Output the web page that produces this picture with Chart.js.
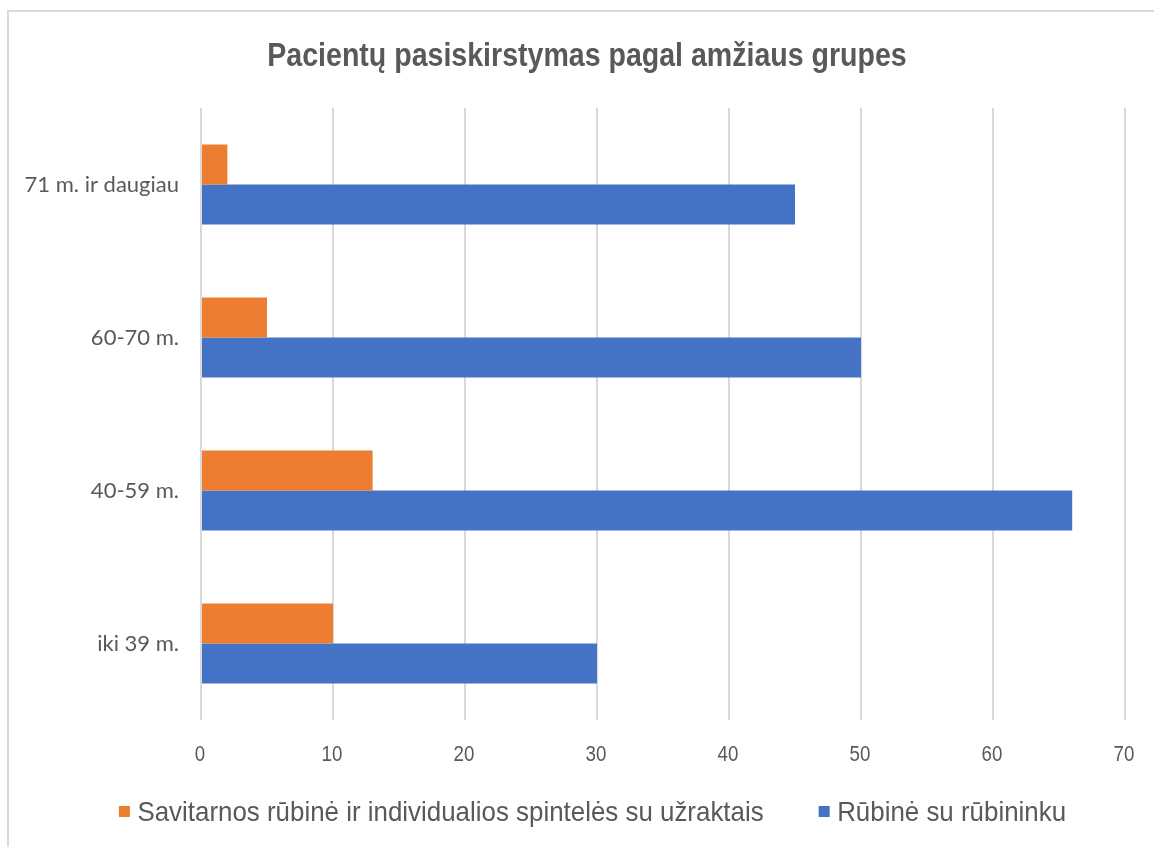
<!DOCTYPE html>
<html><head><meta charset="utf-8">
<script src="https://cdn.jsdelivr.net/npm/chart.js@4.4.1/dist/chart.umd.min.js"></script>
<style>
html,body{margin:0;padding:0;background:#fff;overflow:hidden}
#frame{position:absolute;left:7px;top:10px;width:1200px;height:900px;border-left:2px solid #d9d9d9;border-top:2px solid #d9d9d9;}
#wrap{position:absolute;left:0;top:0;width:1154px;height:847px}
</style></head><body>
<div id="frame"></div>
<div id="wrap"><canvas id="c" width="1154" height="847"></canvas></div>
<script>
const titleText = 'Pacientų pasiskirstymas pagal amžiaus grupes';
const categories = ['71 m. ir daugiau', '60-70 m.', '40-59 m.', 'iki 39 m.'];
const seriesNames = ['Savitarnos rūbinė ir individualios spintelės su užraktais', 'Rūbinė su rūbininku'];
const selfServiceValues = [2, 5, 13, 10];
const attendantValues = [45, 50, 66, 30];
const xTickValues = [0, 10, 20, 30, 40, 50, 60, 70];
const seriesColors = ['#ED7D31', '#4472C4'];

const SANS = '"Liberation Sans", Arial, sans-serif';
const TEXT = '#595959';

// draw text horizontally condensed (the reference uses a narrow face)
function narrowText(ctx, text, x, y, sx, align) {
  ctx.save();
  ctx.translate(x, y);
  ctx.scale(sx, 1);
  ctx.textAlign = align;
  ctx.fillText(text, 0, 0);
  ctx.restore();
}

const narrowTextPlugin = {
  id: 'narrowText',
  afterDraw(chart) {
    const ctx = chart.ctx;
    ctx.save();
    ctx.textBaseline = 'alphabetic';
    ctx.fillStyle = TEXT;

    // title
    ctx.font = 'bold 33px ' + SANS;
    narrowText(ctx, titleText, 587, 66, 0.865, 'center');

    // x tick labels, positioned by the library's x scale
    const xs = chart.scales.x;
    ctx.font = '22px ' + SANS;
    xTickValues.forEach(v => {
      narrowText(ctx, String(v), xs.getPixelForValue(v) - 1, 761, 0.85, 'center');
    });

    // legend
    const ds = chart.data.datasets;
    const sx = 0.925;
    ctx.font = '28px ' + SANS;
    const box = 11, boxGap = 7.5, itemGap = 55;
    const widths = ds.map(d => ctx.measureText(d.label).width * sx);
    let total = 0;
    widths.forEach((w, i) => { total += box + boxGap + w + (i < widths.length - 1 ? itemGap : 0); });
    let x = 592.5 - total / 2;
    const cy = 811.5;
    ds.forEach((d, i) => {
      ctx.fillStyle = d.backgroundColor;
      ctx.fillRect(x, cy - box / 2, box, box);
      x += box + boxGap;
      ctx.fillStyle = TEXT;
      narrowText(ctx, d.label, x, 821, sx, 'left');
      x += widths[i] + itemGap;
    });
    ctx.restore();
  }
};

new Chart(document.getElementById('c'), {
  type: 'bar',
  data: {
    labels: categories,
    datasets: [
      { label: seriesNames[0], data: selfServiceValues, backgroundColor: seriesColors[0], categoryPercentage: 0.523, barPercentage: 1.0 },
      { label: seriesNames[1], data: attendantValues, backgroundColor: seriesColors[1], categoryPercentage: 0.523, barPercentage: 1.0 }
    ]
  },
  options: {
    responsive: false,
    animation: false,
    indexAxis: 'y',
    layout: { padding: { left: 0, right: 29, top: 108, bottom: 47 } },
    plugins: {
      legend: { display: false },
      tooltip: { enabled: false },
      title: { display: false, text: titleText }
    },
    scales: {
      x: {
        min: 0, max: 70,
        afterBuildTicks(s) { s.ticks = xTickValues.map(v => ({ value: v })); },
        afterFit(s) { s.height = 80; },
        ticks: { display: false },
        grid: { color: '#d9d9d9', lineWidth: 2, drawTicks: false },
        border: { display: false }
      },
      y: {
        afterFit(s) { s.width = 201; },
        ticks: { color: TEXT, font: { family: 'Lato, "Open Sans", sans-serif', size: 22 }, padding: 22 },
        grid: { display: false, drawTicks: false },
        border: { display: false }
      }
    }
  },
  plugins: [narrowTextPlugin]
});
</script>
</body></html>
